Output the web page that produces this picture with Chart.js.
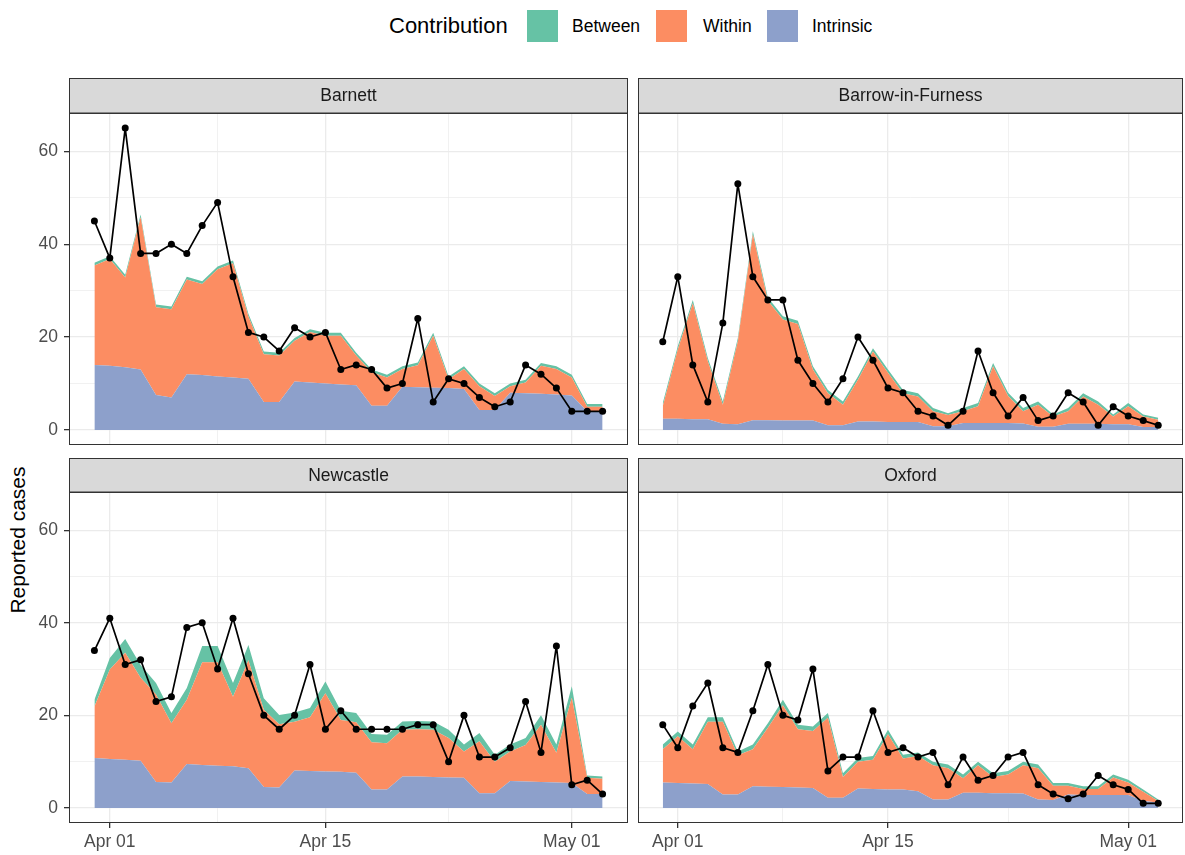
<!DOCTYPE html>
<html lang="en">
<head>
<meta charset="UTF-8">
<title>Reported cases by contribution</title>
<script src="https://cdn.jsdelivr.net/npm/chart.js"></script>
<style>
    body {
        margin: 0;
        width: 1185px;
        height: 855px;
        position: relative;
        overflow: hidden;
        background: #fff;
        font-family: "Liberation Sans", Arial, sans-serif;
    }
    canvas { position: absolute; }
    .lg { position: absolute; white-space: nowrap; }
    .lg-title { left: 389px; top: 13px; font-size: 22px; color: #000; }
    .lg-text { top: 16px; font-size: 17.5px; color: #000; }
    .lg-key { top: 10px; width: 31px; height: 32px; }
    .ytitle {
        position: absolute;
        left: 18px; top: 540px;
        transform: translate(-50%, -50%) rotate(-90deg);
        font-size: 21px; white-space: nowrap; color: #000;
    }
</style>
</head>
<body>
    <div class="lg lg-title">Contribution</div>
    <div class="lg lg-key" style="left:527px;background:#66c2a5"></div>
    <div class="lg lg-text" style="left:572px">Between</div>
    <div class="lg lg-key" style="left:656px;background:#fc8d62"></div>
    <div class="lg lg-text" style="left:703px">Within</div>
    <div class="lg lg-key" style="left:767px;background:#8da0cb"></div>
    <div class="lg lg-text" style="left:812px">Intrinsic</div>
    <div class="ytitle">Reported cases</div>

    <canvas id="c0" width="628" height="367" style="left:0;top:78px"></canvas>
    <canvas id="c1" width="545" height="367" style="left:638px;top:78px"></canvas>
    <canvas id="c2" width="628" height="397" style="left:0;top:458px"></canvas>
    <canvas id="c3" width="545" height="397" style="left:638px;top:458px"></canvas>

<script>
// data
const dates = [
    '2020-03-31','2020-04-01','2020-04-02','2020-04-03','2020-04-04','2020-04-05','2020-04-06',
    '2020-04-07','2020-04-08','2020-04-09','2020-04-10','2020-04-11','2020-04-12','2020-04-13',
    '2020-04-14','2020-04-15','2020-04-16','2020-04-17','2020-04-18','2020-04-19','2020-04-20',
    '2020-04-21','2020-04-22','2020-04-23','2020-04-24','2020-04-25','2020-04-26','2020-04-27',
    '2020-04-28','2020-04-29','2020-04-30','2020-05-01','2020-05-02','2020-05-03'
];
const areas = ['Barnett', 'Barrow-in-Furness', 'Newcastle', 'Oxford'];

const barnettReported  = [45,37,65,38,38,40,38,44,49,33,21,20,17,22,20,21,13,14,13,9,10,24,6,11,10,7,5,6,14,12,9,4,4,4];
const barnettIntrinsic = [14,13.8,13.5,13,7.5,7,12,11.8,11.5,11.3,11,6,6,10.4,10.2,10,9.8,9.6,5.2,5.2,9.3,9.2,9.1,9,8.8,4.3,4.3,8,7.9,7.8,7.6,7.4,4,4];
const barnettWithin    = [21.4,23,19.3,32.8,18.9,19,20.4,19.6,23.1,24.6,13.4,10.3,10,8.8,10.9,10.3,10.5,6.4,7.2,6.1,3.8,4.7,11.2,1.9,4.3,5.1,3,1.4,2.3,6,5.5,3.9,1,1];
const barnettBetween   = [0.6,0.6,0.6,0.6,0.6,0.6,0.6,0.6,0.6,0.6,0.6,0.6,0.6,0.6,0.6,0.6,0.6,0.6,0.6,0.6,0.6,0.6,0.6,0.6,0.6,0.6,0.6,0.6,0.6,0.6,0.6,0.6,0.6,0.6];

const barrowReported  = [19,33,14,6,23,53,33,28,28,15,10,6,11,20,15,9,8,4,3,1,4,17,8,3,7,2,3,8,6,1,5,3,2,1];
const barrowIntrinsic = [2.4,2.4,2.3,2.3,1.3,1.2,2.1,2.1,2,2,2,1,1,1.8,1.8,1.7,1.7,1.7,0.8,0.8,1.5,1.5,1.5,1.5,1.4,0.7,0.7,1.3,1.3,1.3,1.2,1.2,0.6,0.6];
const barrowWithin    = [2.7,14.9,25,12.5,4.1,17.9,40,25.7,21.8,20.8,11,6.9,4.4,9,15.1,10.6,6.2,5.5,3.2,2.4,2.5,3.6,12.2,5.8,2.6,4.7,2.2,2.7,5.9,4.1,1.7,3.9,2.3,1.6];
const barrowBetween   = [0.7,0.7,0.7,0.7,0.7,0.7,0.7,0.7,0.7,0.7,0.7,0.7,0.7,0.7,0.7,0.7,0.7,0.7,0.7,0.4,0.7,0.7,0.7,0.7,0.7,0.7,0.4,0.7,0.7,0.7,0.4,0.7,0.4,0.4];

const newcastleReported  = [34,41,31,32,23,24,39,40,30,41,29,20,17,20,31,17,21,17,17,17,17,18,18,10,20,11,11,13,23,12,35,5,6,3];
const newcastleIntrinsic = [10.8,10.6,10.4,10.2,5.6,5.5,9.5,9.3,9.1,9,8.6,4.5,4.4,8.1,8,7.9,7.8,7.6,4,4,6.8,6.8,6.7,6.6,6.5,3.2,3.2,5.8,5.7,5.6,5.5,5.4,3,3];
const newcastleWithin    = [11.1,19.3,23.1,17.9,18.9,12.8,13.9,22.2,22.4,15,23.3,16.7,13.7,10.5,11.6,16.9,11.2,10.9,10.2,10,10.1,10.2,10.2,8.5,5.7,11.2,6.8,6.4,7.9,12.4,6.4,18.4,3.5,3.3];
const newcastleBetween   = [1.5,2.5,3,2.8,2.5,2.2,2.5,3.5,3.5,3,3.3,2.5,2,2,2,2.5,2,2,1.8,1.8,1.8,1.8,1.8,1.8,1.5,1.8,1.5,1.5,1.5,2,1.8,2.5,0.5,0.5];

const oxfordReported  = [18,13,22,27,13,12,21,31,20,19,30,8,11,11,21,12,13,11,12,5,11,6,7,11,12,5,3,2,3,7,5,4,1,1];
const oxfordIntrinsic = [5.5,5.4,5.3,5.2,2.9,2.9,4.7,4.6,4.5,4.4,4.3,2.2,2.2,4.2,4.1,4,4,3.6,1.8,1.8,3.3,3.3,3.2,3.2,3.1,1.8,1.7,2.9,2.8,2.8,2.8,2.8,1.5,1.2];
const oxfordWithin    = [7.2,10.1,7.4,13.4,15.7,8.5,8,12.7,17.7,12.6,12.3,17.3,4.5,5.8,6.3,11.9,6.7,7.6,7.4,6.8,3.1,5.9,3.5,4,6.1,6.8,3.1,1.9,1.3,1.3,3.8,2.7,2,0.3];
const oxfordBetween   = [1,1,1,1,1,0.8,1,1,1.2,1,1,1,0.8,0.8,0.8,1,0.8,0.8,0.8,0.8,0.8,0.8,0.8,0.8,0.8,0.8,0.6,0.6,0.6,0.6,0.6,0.6,0.5,0.3];

const xTickDates  = ['2020-04-01', '2020-04-15', '2020-05-01'];
const xTickLabels = ['Apr 01', 'Apr 15', 'May 01'];
const yTicks = [0, 20, 40, 60];

const seriesNames  = ['Intrinsic', 'Within', 'Between'];
const seriesColors = ['#8da0cb', '#fc8d62', '#66c2a5'];

// scales shared by all four panels
const DAY = 86400000;
const t0 = Date.parse('2020-04-01');
const dayOf = d => (Date.parse(d) - t0) / DAY;
const xs = dates.map(dayOf);
const xSpan = xs[xs.length - 1] - xs[0];
const xMin = xs[0] - 0.05 * xSpan, xMax = xs[xs.length - 1] + 0.05 * xSpan;
const xMajor = xTickDates.map(dayOf);
const xMinor = xMajor.slice(1).map((v, i) => (v + xMajor[i]) / 2);
const yTop = 65;
const yMin = -0.05 * yTop, yMax = yTop * 1.05;
const yMinor = yTicks.slice(1).map((v, i) => (v + yTicks[i]) / 2);

const FONT = '"Liberation Sans", Arial, sans-serif';

// no extra room for half tick labels, the panel box is fixed
function fixBox(s, w, h) {
    if (w !== null) s.width = w;
    if (h !== null) s.height = h;
    s.paddingTop = s.paddingBottom = s.paddingLeft = s.paddingRight = 0;
}

const stripPlugin = {
    id: 'strip',
    beforeDraw(chart, args, opts) {
        const {ctx, chartArea: a} = chart;
        ctx.save();
        ctx.fillStyle = '#d9d9d9';
        ctx.fillRect(a.left, 0, a.right - a.left, a.top);
        ctx.strokeStyle = '#333';
        ctx.lineWidth = 1;
        ctx.strokeRect(a.left + 0.5, 0.5, a.right - a.left - 1, a.top - 0.5);
        ctx.fillStyle = '#1a1a1a';
        ctx.font = '17.5px ' + FONT;
        ctx.textAlign = 'center';
        ctx.textBaseline = 'middle';
        ctx.fillText(opts.title, (a.left + a.right) / 2, a.top / 2 + 1);
        ctx.restore();
    },
    afterDraw(chart) {
        const {ctx, chartArea: a} = chart;
        ctx.save();
        ctx.strokeStyle = '#333';
        ctx.lineWidth = 1;
        ctx.strokeRect(a.left + 0.5, a.top + 0.5, a.right - a.left - 1, a.bottom - a.top - 1);
        ctx.restore();
    }
};

function makePanel(id, title, reported, intrinsic, within, between, showY, showX, stripH) {
    const pts = arr => arr.map((v, i) => ({x: xs[i], y: v}));
    const parts = [intrinsic, within, between];
    const areaSets = parts.map((arr, k) => ({
        label: seriesNames[k],
        data: pts(arr),
        stack: 'contrib',
        fill: k === 0 ? 'origin' : '-1',
        backgroundColor: seriesColors[k],
        borderColor: 'rgba(0,0,0,0)',
        borderWidth: 0,
        pointRadius: 0,
        tension: 0
    }));
    const lineSet = {
        label: 'Reported',
        data: pts(reported),
        stack: 'obs',
        fill: false,
        borderColor: '#000',
        borderWidth: 1.7,
        borderJoinStyle: 'round',
        pointRadius: 3.5,
        pointBackgroundColor: '#000',
        pointBorderWidth: 0,
        tension: 0
    };

    new Chart(document.getElementById(id), {
        type: 'line',
        // line first so that it is drawn on top of the areas
        data: { datasets: [lineSet, ...areaSets] },
        options: {
            responsive: false,
            animation: false,
            devicePixelRatio: 1,
            layout: { autoPadding: false, padding: { top: stripH, left: 0, right: 0, bottom: 0 } },
            plugins: {
                legend: { display: false },
                tooltip: { enabled: false },
                strip: { title: title }
            },
            scales: {
                x: {
                    type: 'linear',
                    min: xMin, max: xMax,
                    afterBuildTicks: s => { s.ticks = xMajor.concat(xMinor).map(v => ({value: v})); },
                    afterFit: s => fixBox(s, null, showX ? 32 : 0),
                    border: { display: false },
                    grid: {
                        color: '#ebebeb',
                        lineWidth: c => xMajor.includes(c.tick.value) ? 1.3 : 0.7,
                        drawTicks: showX,
                        tickLength: 5,
                        tickColor: c => xMajor.includes(c.tick.value) ? '#333' : 'rgba(0,0,0,0)'
                    },
                    ticks: {
                        display: showX,
                        autoSkip: false,
                        maxRotation: 0,
                        padding: 4,
                        color: '#4d4d4d',
                        font: { family: FONT, size: 17.5 },
                        callback: v => { const i = xMajor.indexOf(v); return i >= 0 ? xTickLabels[i] : ''; }
                    }
                },
                y: {
                    stacked: true,
                    min: yMin, max: yMax,
                    afterBuildTicks: s => { s.ticks = yTicks.concat(yMinor).map(v => ({value: v})); },
                    afterFit: s => fixBox(s, showY ? 69 : 0, null),
                    border: { display: false },
                    grid: {
                        color: '#ebebeb',
                        lineWidth: c => yTicks.includes(c.tick.value) ? 1.3 : 0.7,
                        drawTicks: showY,
                        tickLength: 5,
                        tickColor: c => yTicks.includes(c.tick.value) ? '#333' : 'rgba(0,0,0,0)'
                    },
                    ticks: {
                        display: showY,
                        padding: 6,
                        color: '#4d4d4d',
                        font: { family: FONT, size: 17.5 },
                        callback: v => yTicks.includes(v) ? String(v) : ''
                    }
                }
            }
        },
        plugins: [stripPlugin]
    });
}

makePanel('c0', areas[0], barnettReported, barnettIntrinsic, barnettWithin, barnettBetween, true, false, 35);
makePanel('c1', areas[1], barrowReported, barrowIntrinsic, barrowWithin, barrowBetween, false, false, 35);
makePanel('c2', areas[2], newcastleReported, newcastleIntrinsic, newcastleWithin, newcastleBetween, true, true, 34);
makePanel('c3', areas[3], oxfordReported, oxfordIntrinsic, oxfordWithin, oxfordBetween, false, true, 34);
</script>
</body>
</html>
